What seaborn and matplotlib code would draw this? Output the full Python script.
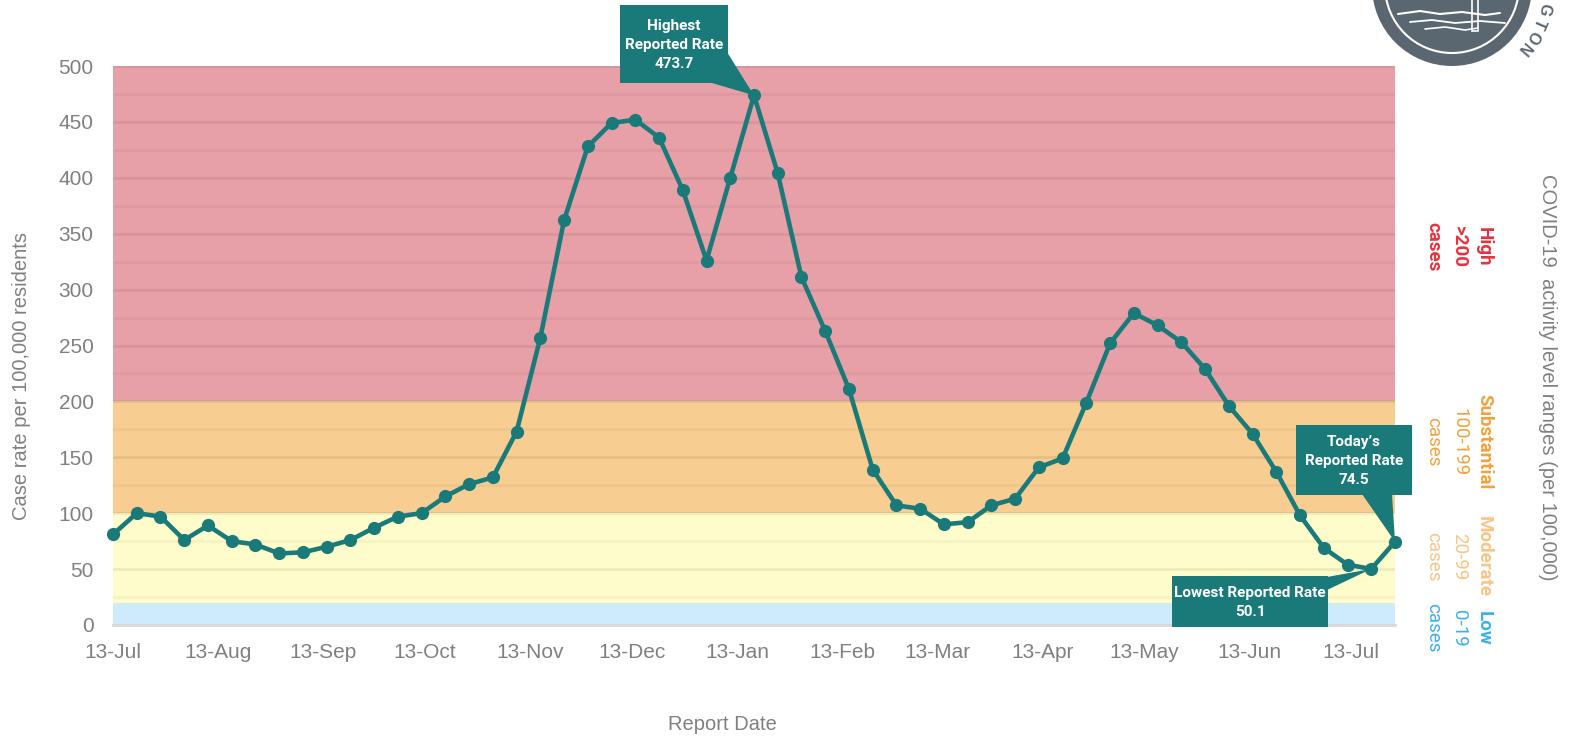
import numpy as np
import pandas as pd
import seaborn as sns
import matplotlib.pyplot as plt
import matplotlib.dates as mdates
from matplotlib import font_manager
from matplotlib.patches import Polygon, Rectangle, Circle

sns.set_style("white")
plt.rcParams["font.family"] = ["Liberation Sans", "DejaVu Sans"]

names = {f.name for f in font_manager.fontManager.ttflist}
narrow = "Liberation Sans Narrow" if "Liberation Sans Narrow" in names else "Roboto"

# weekly case rate per 100,000, from 13-Jul
start_date = "2020-07-13"
rates = [81, 100, 97, 76, 89, 75, 72, 64, 65, 70,
         76, 87, 97, 100, 115, 126, 132, 173, 257, 362,
         428, 449, 452, 436, 389, 326, 400, 473.7, 404, 311,
         263, 211, 139, 107, 104, 90, 92, 107, 113, 141,
         149, 199, 252, 279, 268, 253, 229, 196, 171, 137,
         98, 69, 54, 50.1, 74.5]
dates = pd.date_range(start_date, periods=len(rates), freq="7D")
df = pd.DataFrame({"date": dates, "rate": rates})

band_lo = [0, 20, 100, 200]
band_hi = [20, 100, 200, 500]
band_colors = ["#cdebfb", "#fffccb", "#f7cd91", "#e7a0a7"]

teal = "#1a7a7a"
grey = "#808080"
W, H = 1573, 741

fig = plt.figure(figsize=(W / 100, H / 100), dpi=100)
ax = fig.add_axes([113 / W, (H - 625) / H, (1395 - 113) / W, (625 - 66) / H])

for lo, hi, c in zip(band_lo, band_hi, band_colors):
    ax.axhspan(lo, hi, color=c, lw=0, zorder=0.1)

sns.lineplot(data=df, x="date", y="rate", ax=ax, color=teal, lw=3.3,
             marker="o", markersize=9.5, markeredgewidth=0, clip_on=False, zorder=3)

ax.set_xlim(dates[0], dates[-1])
ax.set_ylim(0, 500)
ax.set_yticks(np.arange(0, 501, 50))
ax.set_yticks(np.arange(25, 500, 50), minor=True)
ax.set_axisbelow(True)
ax.grid(which="major", axis="y", color="black", alpha=0.07, lw=2)
ax.grid(which="minor", axis="y", color="black", alpha=0.035, lw=2)
ax.grid(axis="x", visible=False)

ax.xaxis.set_major_locator(mdates.MonthLocator(bymonthday=13))
ax.xaxis.set_major_formatter(mdates.DateFormatter("%d-%b"))
ax.tick_params(axis="x", colors="#d0d0d0", length=6, width=1.5, pad=7, labelcolor=grey, labelsize=15)
ax.tick_params(axis="y", length=0, pad=14, labelcolor=grey, labelsize=15)
for s in ["top", "right", "left"]:
    ax.spines[s].set_visible(False)
ax.spines["bottom"].set_color("#d9d9d9")
ax.spines["bottom"].set_linewidth(2)
ax.set_xlabel("")
ax.set_ylabel("")

fig.text(22 / W, 1 - 376 / H, "Case rate per 100,000 residents", rotation=90,
         ha="center", va="center", color=grey, fontsize=14.5)
fig.text(722 / W, 1 - 725 / H, "Report Date", ha="center", va="center", color=grey, fontsize=14.5)
fig.text(1547 / W, 1 - 377 / H, "COVID-19  activity level ranges (per 100,000)", rotation=270,
         ha="center", va="center", color=grey, fontsize=14.5)

# activity level labels on the right
level_names = ["High", "Substantial", "Moderate", "Low"]
level_ranges = [">200", "100-199", "20-99", "0-19"]
level_colors = ["#e8313f", "#f5a13a", "#f9c487", "#3ab0f0"]
level_y = [247, 442, 557, 628]
for name, rng, c, y in zip(level_names, level_ranges, level_colors, level_y):
    bold_all = name == "High"
    fig.text(1484 / W, 1 - y / H, name, rotation=270, ha="center", va="center",
             color=c, fontsize=13.5, fontweight="bold", family=narrow)
    fig.text(1459 / W, 1 - y / H, rng, rotation=270, ha="center", va="center",
             color=c, fontsize=13.5, fontweight="bold" if bold_all else "normal", family=narrow)
    fig.text(1433 / W, 1 - y / H, "cases", rotation=270, ha="center", va="center",
             color=c, fontsize=13.5, fontweight="bold" if bold_all else "normal", family=narrow)

# overlay in pixel coordinates
ov = fig.add_axes([0, 0, 1, 1], zorder=10)
ov.set_xlim(0, W)
ov.set_ylim(H, 0)
ov.axis("off")
ov.patch.set_alpha(0)


def to_px(i):
    d = ax.transData.transform((mdates.date2num(dates[i]), rates[i]))
    return d[0], H - d[1]


def callout(box, base, i, text):
    x0, y0, x1, y1 = box
    ov.add_patch(Rectangle((x0, y0), x1 - x0, y1 - y0, color=teal, lw=0))
    ov.add_patch(Polygon([base[0], base[1], to_px(i)], closed=True, color=teal, lw=0))
    ov.text((x0 + x1) / 2, (y0 + y1) / 2 + 1, text, ha="center", va="center", color="white",
            fontsize=11, fontweight="bold", family=narrow, linespacing=1.45)


i_max = int(np.argmax(rates))
i_min = int(np.argmin(rates))
i_last = len(rates) - 1
callout((620, 5, 728, 83), [(727, 52), (712, 83)], i_max,
        f"Highest\nReported Rate\n{rates[i_max]}")
callout((1296, 425, 1412, 495), [(1362, 494), (1392, 494)], i_last,
        f"Today\u2019s\nReported Rate\n{rates[i_last]}")
callout((1172, 576, 1328, 627), [(1327, 577), (1327, 590)], i_min,
        f"Lowest Reported Rate\n{rates[i_min]}")

# partial town seal in the top-right corner
seal = "#5b6770"
cx, cy = 1452, -14
ov.add_patch(Circle((cx, cy), 80, color=seal, lw=0))
ov.add_patch(Circle((cx, cy), 67, fill=False, ec="white", lw=1.5))
ov.plot([1398, 1420, 1440, 1462, 1485, 1500], [14, 11, 14, 12, 15, 13], color="white", lw=1.5)
ov.plot([1410, 1432, 1455, 1480, 1505], [22, 20, 23, 21, 23], color="white", lw=1.3)
ov.plot([1425, 1445, 1465, 1478], [29, 27, 30, 28], color="white", lw=1.2)
ov.add_patch(Rectangle((1472, -5), 6, 36, fc=seal, ec="white", lw=1.2))
for letter, ang in zip("GTON", [14, 23, 32, 41]):
    a = np.radians(ang)
    ov.text(cx + 95 * np.cos(a), cy + 95 * np.sin(a), letter, color=seal, fontsize=11.5,
            fontweight="bold", ha="center", va="center", rotation=-ang - 90)

fig.savefig("out.png", dpi=100)
